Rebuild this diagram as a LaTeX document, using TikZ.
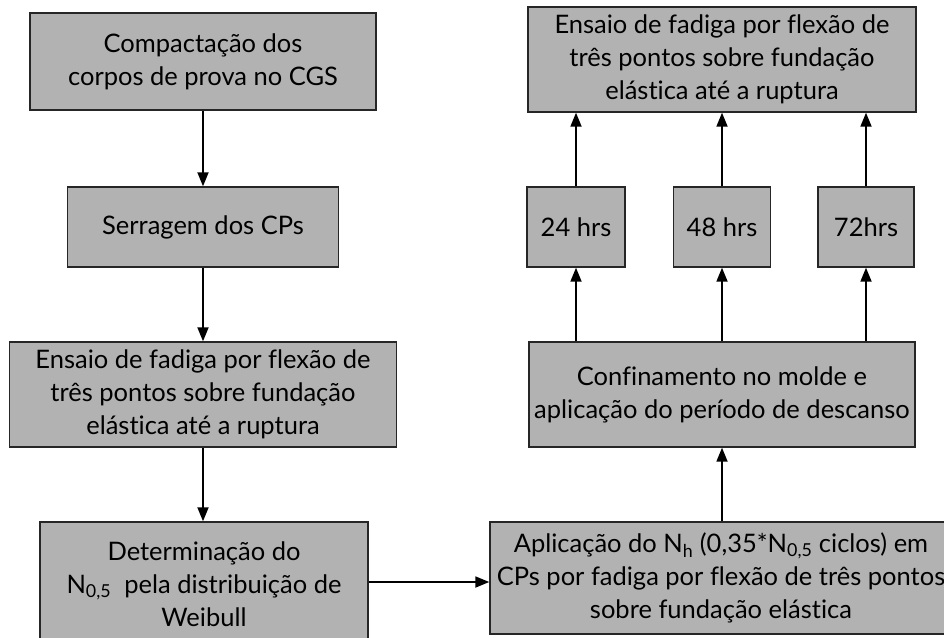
\documentclass[tikz,border=0pt]{standalone}
\usepackage{fontspec}
\setmainfont[Ligatures=NoCommon]{Lato}
\usetikzlibrary{arrows.meta}
\begin{document}
\begin{tikzpicture}[x=1pt,y=1pt,
  box/.style={draw=black!85, line width=1.4pt, fill=black!30, align=center,
    inner sep=0pt, font=\fontsize{25.5}{33}\selectfont},
  arr/.style={-{Triangle[length=14pt,width=11pt]}, line width=1.8pt}]
\useasboundingbox (0,0) rectangle (944,-637);
\clip (0,0) rectangle (944,-637);
\node[box, minimum width=346, minimum height=97] (b1) at (203,-61.5) {Compactação dos\\corpos de prova no CGS};
\node[box, minimum width=271, minimum height=80] (b2) at (203,-227) {Serragem dos CPs};
\node[box, minimum width=387, minimum height=105] (b3) at (203,-394.5) {Ensaio de fadiga por flexão de\\três pontos sobre fundação\\elástica até a ruptura};
\node[box, minimum width=328, minimum height=124] (b4) at (204,-584) {Determinação do\\N\textsubscript{0,5}\ \ pela distribuição de\\Weibull};
\node[box, minimum width=462, minimum height=112] (b5) at (721,-578) {Aplicação do N\textsubscript{h} (0,35*N\textsubscript{0,5} ciclos) em\\CPs por fadiga por flexão de três pontos\\sobre fundação elástica};
\node[box, minimum width=386, minimum height=105] (b6) at (722,-394.5) {Confinamento no molde e\\aplicação do período de descanso};
\node[box, minimum width=98, minimum height=80] (s24) at (576,-227) {24 hrs};
\node[box, minimum width=97, minimum height=80] (s48) at (722,-227) {48 hrs};
\node[box, minimum width=96, minimum height=80] (s72) at (866,-227) {72hrs};
\node[box, minimum width=388, minimum height=105] (top) at (722,-59.5) {Ensaio de fadiga por flexão de\\três pontos sobre fundação\\elástica até a ruptura};
\draw[arr] (b1.south) -- (b2.north);
\draw[arr] (b2.south) -- (b3.north);
\draw[arr] (b3.south) -- (b4.north -| b3);
\draw[arr] (b4.east |- 0,-582) -- (b5.west |- 0,-582);
\draw[arr] (b5.north -| b6) -- (b6.south);
\foreach \s in {s24,s48,s72}{
  \draw[arr] (b6.north -| \s) -- (\s.south);
  \draw[arr] (\s.north) -- (top.south -| \s);
}
\end{tikzpicture}
\end{document}
